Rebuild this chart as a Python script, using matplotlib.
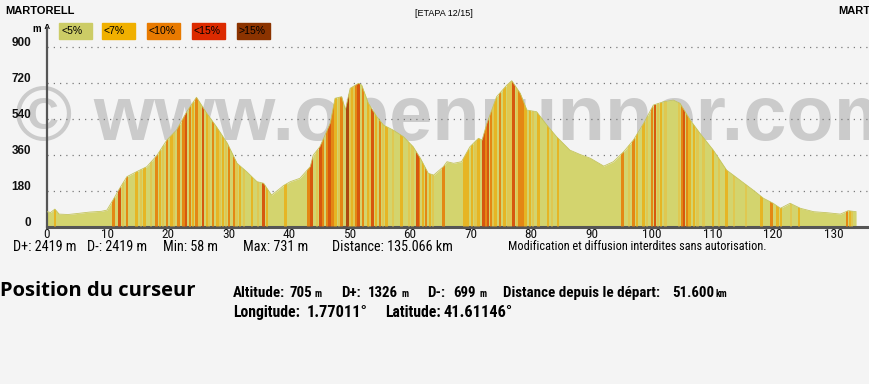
import numpy as np
import matplotlib
matplotlib.use("Agg")
import matplotlib.pyplot as plt
from matplotlib import font_manager as fm

# profile: distance (km) / altitude (m)
km = [0, 0.6, 1.3, 2.0, 3.5, 5, 7, 9, 9.9, 10.9, 12.0, 13.2, 14.8, 16.5, 18.2,
      19.8, 21.4, 23.1, 24.7, 26.4, 28.0, 29.8, 31.4, 33.0, 34.7, 35.8, 37.1,
      38.3, 39.1, 40.2, 41.8, 43.5, 44.0, 45.1, 46.8, 47.6, 48.7, 49.3, 50.1,
      51.5, 52.0, 53.1, 54.5, 55.6, 57.2, 58.9, 60.5, 61.7, 63.0, 63.9, 65.5,
      66.1, 67.2, 68.5, 69.9, 71.3, 71.9, 72.7, 74.3, 76.0, 76.8, 78.2, 79.3,
      80.9, 82.6, 84.2, 86.4, 88.1, 89.8, 92.0, 93.6, 95.3, 96.9, 98.6, 100.2,
      101.9, 103.5, 104.6, 106.3, 107.9, 110.1, 112.3, 114.5, 116.7, 118.4,
      120.0, 121.2, 122.8, 124.5, 126.7, 128.9, 131.1, 132.4, 133.7]
alt = [74, 70, 87, 62, 60, 65, 72, 76, 82, 132, 190, 249, 274, 299, 357,
       432, 482, 574, 646, 566, 499, 416, 316, 274, 224, 216, 157,
       185, 205, 224, 241, 299, 357, 399, 516, 641, 649, 582, 691,
       716, 707, 616, 549, 507, 482, 449, 399, 341, 266, 257, 299,
       324, 316, 324, 399, 441, 432, 516, 649, 707, 729, 666, 582,
       574, 507, 449, 382, 360, 341, 302, 324, 374, 432, 516, 607,
       624, 632, 616, 532, 466, 382, 282, 232, 182, 141,
       116, 91, 116, 91, 74, 69, 62, 79, 74]

# slope stripes: start km, end km, class (1 <7%, 2 <10%, 3 <15%, 4 >15%)
strip_start = [1.1, 10.8, 11.8, 13.0, 14.6, 15.9, 17.9, 18.5, 19.6, 20.4, 21.5,
               22.3, 22.8, 23.4, 23.9, 24.5, 25.6, 26.2, 27.2, 28.0, 28.9, 29.9,
               30.7, 31.7, 33.7, 35.6, 36.2, 39.2, 43.0, 43.5, 45.0, 45.4, 46.1,
               46.5, 47.0, 47.5, 48.5, 49.4, 50.2, 50.9, 51.3, 52.0, 52.8, 53.5,
               54.2, 54.8, 55.9, 58.4, 60.9, 61.4, 61.9, 62.4, 63.1, 65.3, 68.8,
               69.3, 70.0, 71.1, 71.9, 72.3, 72.7, 73.2, 73.9, 74.7, 75.4, 76.9,
               77.9, 78.4, 78.9, 79.6, 81.0, 82.6, 84.2, 94.9, 96.7, 97.3, 98.4,
               99.8, 100.3, 101.3, 104.7, 105.1, 105.6, 106.0, 106.7, 109.9,
               112.1, 117.9, 119.4, 120.5, 121.1, 124.1, 132.0, 132.6]
strip_end = [1.5, 11.25, 12.2, 13.4, 15.0, 16.3, 18.3, 18.9, 20.0, 20.8, 22.0,
             22.8, 23.2, 23.8, 24.3, 24.9, 26.0, 26.6, 27.6, 28.4, 29.3, 30.3,
             31.1, 32.1, 34.1, 36.0, 36.6, 39.6, 43.5, 44.0, 45.4, 45.8, 46.5,
             47.0, 47.4, 47.9, 48.9, 49.9, 50.6, 51.3, 51.7, 52.4, 53.2, 54.0,
             54.6, 55.2, 56.3, 58.8, 61.4, 61.7, 62.3, 62.8, 63.5, 65.7, 69.2,
             69.7, 70.4, 71.5, 72.3, 72.7, 73.1, 73.6, 74.3, 75.1, 75.8, 77.3,
             78.3, 78.8, 79.3, 80.0, 81.4, 83.0, 84.6, 95.3, 97.1, 97.7, 98.8,
             100.2, 100.7, 101.7, 105.1, 105.5, 106.0, 106.4, 107.1, 110.3,
             112.5, 118.3, 119.9, 120.9, 121.5, 124.5, 132.4, 132.9]
strip_cls = [1, 2, 3, 2, 1, 1, 2, 1, 2, 1, 2,
             2, 3, 2, 1, 2, 3, 1, 2, 1, 1, 2,
             2, 1, 1, 3, 1, 1, 2, 3, 3, 2, 2,
             3, 2, 1, 2, 4, 1, 2, 3, 2, 1, 3,
             1, 2, 1, 1, 3, 2, 1, 2, 1, 2, 1,
             1, 1, 1, 3, 2, 3, 2, 1, 2, 1, 3,
             2, 2, 1, 1, 1, 1, 1, 2, 2, 1, 1,
             2, 3, 1, 2, 3, 2, 1, 1, 1,
             1, 1, 2, 1, 1, 1, 2, 1]
# lighter <7% stripes scattered along the climbs (centres, km)
light_km = [12.6, 15.5, 17.2, 19.2, 21.0, 23.6, 25.2, 26.8, 28.6, 29.6, 31.3,
            32.6, 34.8, 44.6, 48.2, 50.0, 50.8, 53.3, 55.5, 57.2, 59.8, 60.4,
            63.8, 70.8, 73.7, 76.2, 76.6, 77.6, 80.3, 83.5, 96.2, 99.2, 100.9,
            102.2, 104.4, 107.5, 108.5, 111.0, 113.5, 115.5, 123.0, 133.0]

legend_labels = ["<5%", "<7%", "<10%", "<15%", ">15%"]
legend_colors = ["#cccc66", "#f0b000", "#e87a00", "#dc2a00", "#8b3300"]
strip_colors = {1: "#e9b21c", 2: "#e67f0a", 3: "#d84a04", 4: "#a83a06"}

yticks = [0, 180, 360, 540, 720, 900]
xticks = list(range(0, 140, 10))

stats = ["D+: 2419 m", "D-: 2419 m", "Min: 58 m", "Max: 731 m",
         "Distance: 135.066 km"]
notice = "Modification et diffusion interdites sans autorisation."
# cursor readout
line1_labels = ["Altitude:", "D+:", "D-:", "Distance depuis le d\u00e9part:"]
line1_values = ["705", "1326", "699", "51.600"]
line1_units = ["m", "m", "m", "km"]
line2_labels = ["Longitude:", "Latitude:"]
line2_values = ["1.77011\u00b0", "41.61146\u00b0"]

W, H = 870, 384
bg = "#f4f4f4"
fig = plt.figure(figsize=(W / 100, H / 100), dpi=100, facecolor=bg)

names = {f.name for f in fm.fontManager.ttflist}
sans = ["Liberation Sans", "DejaVu Sans"]
if "Liberation Sans Narrow" in names:
    narrow = ["Liberation Sans Narrow", "DejaVu Sans"]
elif "Roboto Condensed" in names:
    narrow = ["Roboto Condensed", "DejaVu Sans"]
else:
    narrow = sans


def px(x, y):
    return x / W, 1 - y / H


renderer = fig.canvas.get_renderer()


def fit_group(spans, y, texts, fs, pick=min, **kw):
    # one common font size so the pieces fit their spans
    objs, sizes = [], []
    for (x0, x1), s in zip(spans, texts):
        t = fig.text(*px(x0, y), s, fontsize=fs, **kw)
        w = t.get_window_extent(renderer).width
        sizes.append(fs * (x1 - x0) / w if w > 0 else fs)
        objs.append(t)
    size = float(pick(sizes))
    for t in objs:
        t.set_fontsize(size)
    return objs


# watermark behind the profile
fig.text(*px(15, 140), "\u00a9 www.openrunner.com", fontsize=56,
         family=sans, weight="bold", color="#cbcbcb", va="baseline",
         ha="left", zorder=1)

ax = fig.add_axes([47 / W, 1 - 226.5 / H, 1 - 47 / W, (226.5 - 28) / H])
ax.set_zorder(2)
ax.set_facecolor("none")
ax.set_xlim(0, 136)
ax.set_ylim(0, 992.5)

for t in yticks[1:]:
    ax.axhline(t, color="#7a7a7a", lw=0.9, ls=(0, (1, 4)), zorder=1)

prof = ax.fill_between(km, alt, 0, color="#d3d46e", lw=0, zorder=2)
clip = prof.get_paths()[0]
for c in light_km:
    sp = ax.axvspan(c - 0.18, c + 0.18, color="#e3c64a", lw=0, zorder=3,
                    alpha=0.8)
    sp.set_clip_path(clip, ax.transData)
for s, e, c in zip(strip_start, strip_end, strip_cls):
    sp = ax.axvspan(s, e, color=strip_colors[c], lw=0, zorder=3, alpha=0.9)
    sp.set_clip_path(clip, ax.transData)
ax.plot(km, alt, color="#c4c45c", lw=0.6, zorder=4)

for side in ["top", "right"]:
    ax.spines[side].set_visible(False)
ax.spines["left"].set_color("#555555")
ax.spines["left"].set_linewidth(1.6)
ax.spines["bottom"].set_color("#555555")
ax.spines["bottom"].set_linewidth(2.2)
ax.set_xticks([])
ax.set_yticks([])

for t in yticks:
    ax.text(-16 / 6.05, t + 18, str(t), ha="right", va="center",
            fontsize=8.5, family=sans, weight="bold", color="#111111")
for t in xticks:
    ax.text(t, -38, str(t), ha="center", va="center",
            fontsize=9.5 if narrow is not sans else 8.5,
            family=narrow, color="#111111")

# header
fig.text(*px(5, 11), "MARTORELL", fontsize=8, family=sans, weight="bold",
         va="center", ha="left")
fig.text(*px(838, 11), "MARTORELL", fontsize=8, family=sans, weight="bold",
         va="center", ha="left")
fig.text(*px(444, 13), "[ETAPA 12/15]", fontsize=6.5, family=sans,
         va="center", ha="center")
fig.text(*px(33, 29), "m ^", fontsize=7, family=sans, weight="bold",
         va="center", ha="left")

box_x = [59, 102, 147, 192, 237]
for x0, lab, col in zip(box_x, legend_labels, legend_colors):
    fig.patches.append(plt.Rectangle(px(x0, 39), 33 / W, 16 / H,
                                     transform=fig.transFigure,
                                     color=col, zorder=5))
    fig.text(*px(x0 + 2, 31), lab, fontsize=7.5, family=sans, va="center",
             ha="left", zorder=6)

# stats under the axis
fit_group([(13, 77), (87, 148), (163, 213), (243, 306), (332, 453)], 247,
          stats, 9, pick=np.median, family=narrow, va="center")
fit_group([(508, 766)], 247, [notice], 8, family=narrow, va="center")

# cursor block
fig.text(*px(0, 291), "Position du curseur", fontsize=14.5,
         family=["Open Sans", "DejaVu Sans"], weight="bold", va="center")

fit_group([(233, 285), (341, 364), (427, 450), (503, 667)], 297,
          line1_labels, 8, family=narrow, weight="bold", va="baseline")
fit_group([(289, 313), (368, 400), (453, 478), (672, 714)], 297,
          line1_values, 10, family=narrow, weight="bold", va="baseline")
fit_group([(315, 322), (402, 410), (480, 487), (716, 729)], 297,
          line1_units, 6, family=narrow, weight="bold", va="baseline")
fit_group([(233, 303), (385, 441)], 317, line2_labels, 8, family=narrow,
          weight="bold", va="baseline")
fit_group([(307, 369), (444, 514)], 317, line2_values, 10, family=narrow,
          weight="bold", va="baseline")

fig.savefig("out.png", dpi=100, facecolor=bg)
